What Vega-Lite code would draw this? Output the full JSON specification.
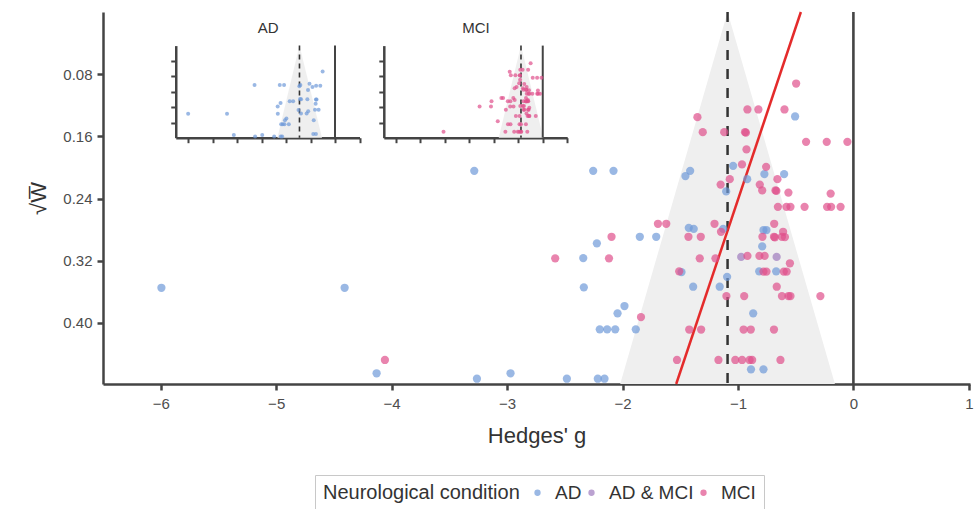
{
  "$schema": "https://vega.github.io/schema/vega-lite/v6.json",
  "width": 867,
  "height": 372,
  "autosize": {"type": "none"},
  "padding": {"left": 103, "top": 12, "right": 6, "bottom": 125},
  "background": "white",
  "config": {
    "view": {"stroke": null},
    "font": "Liberation Sans",
    "axis": {"grid": false, "domainColor": "#444444", "tickColor": "#444444", "labelColor": "#4d4d4d", "titleColor": "#333333", "labelFont": "Liberation Sans", "titleFont": "Liberation Sans", "titleFontWeight": "normal", "zindex": 1},
    "legend": {"labelFont": "Liberation Sans", "titleFont": "Liberation Sans"}
  },
  "datasets": {
    "pts": [
      {"g": -5.994, "w": 0.3547, "c": "AD"}, {"g": -4.407, "w": 0.3547, "c": "AD"}, {"g": -3.284, "w": 0.2043, "c": "AD"},
      {"g": -4.130, "w": 0.4647, "c": "AD"}, {"g": -3.261, "w": 0.4717, "c": "AD"}, {"g": -2.970, "w": 0.4647, "c": "AD"},
      {"g": -2.254, "w": 0.2043, "c": "AD"}, {"g": -2.078, "w": 0.2043, "c": "AD"}, {"g": -1.414, "w": 0.2043, "c": "AD"},
      {"g": -1.455, "w": 0.2111, "c": "AD"}, {"g": -0.505, "w": 0.1344, "c": "AD"}, {"g": -1.042, "w": 0.1979, "c": "AD"},
      {"g": -0.771, "w": 0.2085, "c": "AD"}, {"g": -0.600, "w": 0.2085, "c": "AD"}, {"g": -0.920, "w": 0.2150, "c": "AD"},
      {"g": -1.102, "w": 0.2308, "c": "AD"}, {"g": -1.426, "w": 0.2776, "c": "AD"}, {"g": -1.383, "w": 0.2789, "c": "AD"},
      {"g": -1.128, "w": 0.2789, "c": "AD"}, {"g": -0.779, "w": 0.2805, "c": "AD"}, {"g": -0.753, "w": 0.2805, "c": "AD"},
      {"g": -2.222, "w": 0.2976, "c": "AD"}, {"g": -1.850, "w": 0.2891, "c": "AD"}, {"g": -1.708, "w": 0.2891, "c": "AD"},
      {"g": -0.790, "w": 0.3015, "c": "AD"}, {"g": -2.340, "w": 0.3165, "c": "AD"}, {"g": -1.489, "w": 0.3345, "c": "AD"},
      {"g": -1.094, "w": 0.3406, "c": "AD"}, {"g": -0.816, "w": 0.3336, "c": "AD"}, {"g": -0.669, "w": 0.3336, "c": "AD"},
      {"g": -2.335, "w": 0.3542, "c": "AD"}, {"g": -1.388, "w": 0.3534, "c": "AD"}, {"g": -1.158, "w": 0.3534, "c": "AD"},
      {"g": -1.983, "w": 0.3782, "c": "AD"}, {"g": -2.043, "w": 0.3876, "c": "AD"}, {"g": -0.868, "w": 0.3876, "c": "AD"},
      {"g": -2.197, "w": 0.4082, "c": "AD"}, {"g": -2.133, "w": 0.4082, "c": "AD"}, {"g": -2.063, "w": 0.4082, "c": "AD"},
      {"g": -1.885, "w": 0.4082, "c": "AD"}, {"g": -0.887, "w": 0.4596, "c": "AD"}, {"g": -0.779, "w": 0.4596, "c": "AD"},
      {"g": -2.482, "w": 0.4717, "c": "AD"}, {"g": -2.214, "w": 0.4717, "c": "AD"}, {"g": -2.156, "w": 0.4717, "c": "AD"},
      {"g": -0.972, "w": 0.3150, "c": "AD & MCI"}, {"g": -0.665, "w": 0.3150, "c": "AD & MCI"},
      {"g": -4.058, "w": 0.4476, "c": "MCI"}, {"g": -0.496, "w": 0.0920, "c": "MCI"}, {"g": -0.918, "w": 0.1254, "c": "MCI"},
      {"g": -0.823, "w": 0.1254, "c": "MCI"}, {"g": -0.597, "w": 0.1254, "c": "MCI"}, {"g": -1.351, "w": 0.1353, "c": "MCI"},
      {"g": -1.305, "w": 0.1546, "c": "MCI"}, {"g": -1.119, "w": 0.1546, "c": "MCI"}, {"g": -0.939, "w": 0.1546, "c": "MCI"},
      {"g": -0.931, "w": 0.1552, "c": "MCI"}, {"g": -0.410, "w": 0.1670, "c": "MCI"}, {"g": -0.231, "w": 0.1670, "c": "MCI"},
      {"g": -0.052, "w": 0.1670, "c": "MCI"}, {"g": -0.926, "w": 0.1768, "c": "MCI"}, {"g": -0.965, "w": 0.1961, "c": "MCI"},
      {"g": -0.756, "w": 0.1992, "c": "MCI"}, {"g": -1.071, "w": 0.2150, "c": "MCI"}, {"g": -0.658, "w": 0.2150, "c": "MCI"},
      {"g": -1.150, "w": 0.2220, "c": "MCI"}, {"g": -0.811, "w": 0.2220, "c": "MCI"}, {"g": -0.790, "w": 0.2295, "c": "MCI"},
      {"g": -0.675, "w": 0.2295, "c": "MCI"}, {"g": -0.667, "w": 0.2301, "c": "MCI"}, {"g": -0.563, "w": 0.2323, "c": "MCI"},
      {"g": -0.197, "w": 0.2336, "c": "MCI"}, {"g": -0.654, "w": 0.2506, "c": "MCI"}, {"g": -0.580, "w": 0.2506, "c": "MCI"},
      {"g": -0.545, "w": 0.2506, "c": "MCI"}, {"g": -0.423, "w": 0.2506, "c": "MCI"}, {"g": -0.228, "w": 0.2506, "c": "MCI"},
      {"g": -0.193, "w": 0.2506, "c": "MCI"}, {"g": -0.111, "w": 0.2506, "c": "MCI"}, {"g": -1.693, "w": 0.2724, "c": "MCI"},
      {"g": -1.621, "w": 0.2724, "c": "MCI"}, {"g": -1.203, "w": 0.2724, "c": "MCI"}, {"g": -0.686, "w": 0.2724, "c": "MCI"},
      {"g": -1.147, "w": 0.2827, "c": "MCI"}, {"g": -0.609, "w": 0.2827, "c": "MCI"}, {"g": -2.095, "w": 0.2891, "c": "MCI"},
      {"g": -1.429, "w": 0.2891, "c": "MCI"}, {"g": -1.322, "w": 0.2891, "c": "MCI"}, {"g": -0.788, "w": 0.2891, "c": "MCI"},
      {"g": -0.688, "w": 0.2891, "c": "MCI"}, {"g": -0.680, "w": 0.2898, "c": "MCI"}, {"g": -0.619, "w": 0.2891, "c": "MCI"},
      {"g": -0.593, "w": 0.2895, "c": "MCI"}, {"g": -2.583, "w": 0.3169, "c": "MCI"}, {"g": -2.117, "w": 0.3169, "c": "MCI"},
      {"g": -1.331, "w": 0.3169, "c": "MCI"}, {"g": -1.195, "w": 0.3169, "c": "MCI"}, {"g": -0.918, "w": 0.3137, "c": "MCI"},
      {"g": -0.814, "w": 0.3137, "c": "MCI"}, {"g": -0.769, "w": 0.3137, "c": "MCI"}, {"g": -0.550, "w": 0.3232, "c": "MCI"},
      {"g": -1.509, "w": 0.3336, "c": "MCI"}, {"g": -0.779, "w": 0.3339, "c": "MCI"}, {"g": -0.753, "w": 0.3339, "c": "MCI"},
      {"g": -0.603, "w": 0.3339, "c": "MCI"}, {"g": -0.578, "w": 0.3339, "c": "MCI"}, {"g": -0.664, "w": 0.3534, "c": "MCI"},
      {"g": -1.100, "w": 0.3654, "c": "MCI"}, {"g": -0.946, "w": 0.3654, "c": "MCI"}, {"g": -0.619, "w": 0.3654, "c": "MCI"},
      {"g": -0.563, "w": 0.3654, "c": "MCI"}, {"g": -0.545, "w": 0.3654, "c": "MCI"}, {"g": -0.286, "w": 0.3654, "c": "MCI"},
      {"g": -1.840, "w": 0.3924, "c": "MCI"}, {"g": -1.422, "w": 0.4084, "c": "MCI"}, {"g": -1.319, "w": 0.4084, "c": "MCI"},
      {"g": -0.951, "w": 0.4084, "c": "MCI"}, {"g": -0.889, "w": 0.4084, "c": "MCI"}, {"g": -0.688, "w": 0.4084, "c": "MCI"},
      {"g": -1.528, "w": 0.4476, "c": "MCI"}, {"g": -1.169, "w": 0.4476, "c": "MCI"}, {"g": -1.023, "w": 0.4476, "c": "MCI"},
      {"g": -0.964, "w": 0.4476, "c": "MCI"}, {"g": -0.899, "w": 0.4476, "c": "MCI"}, {"g": -0.877, "w": 0.4476, "c": "MCI"},
      {"g": -0.632, "w": 0.4476, "c": "MCI"}
    ],
    "funnel": [
      {"p": "all", "w": 0, "lo": -1.09, "hi": -1.09},
      {"p": "all", "w": 0.4785, "lo": -2.02, "hi": -0.16},
      {"p": "AD", "w": 0, "lo": -1.45, "hi": -1.45},
      {"p": "AD", "w": 0.4785, "lo": -2.35, "hi": -0.53},
      {"p": "MCI", "w": 0, "lo": -0.89, "hi": -0.89},
      {"p": "MCI", "w": 0.4785, "lo": -1.8, "hi": 0.02}
    ],
    "vlines": [
      {"p": "all", "k": "zero", "g": 0, "w0": 0, "w1": 0.4785},
      {"p": "all", "k": "mean", "g": -1.09, "w0": 0, "w1": 0.4785},
      {"p": "AD", "k": "zero", "g": 0, "w0": 0, "w1": 0.4785},
      {"p": "AD", "k": "mean", "g": -1.45, "w0": 0, "w1": 0.4785},
      {"p": "MCI", "k": "zero", "g": 0, "w0": 0, "w1": 0.4785},
      {"p": "MCI", "k": "mean", "g": -0.89, "w0": 0, "w1": 0.4785}
    ],
    "egger": [
      {"w": 0, "g": -0.455},
      {"w": 0.4785, "g": -1.535}
    ]
  },
  "layer": [
    {
      "layer": [
        {
          "data": {"name": "funnel"},
          "transform": [{"filter": "datum.p === 'all'"}],
          "mark": {"type": "area", "orient": "horizontal", "color": "#efefef"},
          "encoding": {
            "y": {"field": "w", "type": "quantitative",
              "scale": {"domain": [0, 0.4785], "nice": false, "zero": false, "range": [0, 372]},
              "axis": {"values": [0.08, 0.16, 0.24, 0.32, 0.4], "format": ".2f", "title": "√W̅", "titleFontSize": 22, "labelFontSize": 15, "tickSize": 6, "tickWidth": 2.5, "domainWidth": 2.5, "labelPadding": 5, "titlePadding": 12}},
            "x": {"field": "lo", "type": "quantitative",
              "scale": {"domain": [-6.5, 1.01], "nice": false, "zero": false},
              "axis": {"values": [-6, -5, -4, -3, -2, -1, 0, 1], "format": "d", "title": "Hedges' g", "titleFontSize": 22, "labelFontSize": 15, "tickSize": 6, "tickWidth": 2.5, "domainWidth": 2.5, "labelPadding": 6, "titlePadding": 14}},
            "x2": {"field": "hi"}
          }
        },
        {
          "data": {"name": "vlines"},
          "transform": [{"filter": "datum.p === 'all' && datum.k === 'zero'"}],
          "mark": {"type": "rule", "color": "#444444", "strokeWidth": 2.6},
          "encoding": {"x": {"field": "g", "type": "quantitative"}, "y": {"field": "w0", "type": "quantitative"}, "y2": {"field": "w1"}}
        },
        {
          "data": {"name": "vlines"},
          "transform": [{"filter": "datum.p === 'all' && datum.k === 'mean'"}],
          "mark": {"type": "rule", "color": "#333333", "strokeWidth": 2.5, "strokeDash": [10, 9]},
          "encoding": {"x": {"field": "g", "type": "quantitative"}, "y": {"field": "w0", "type": "quantitative"}, "y2": {"field": "w1"}}
        },
        {
          "data": {"name": "egger"},
          "mark": {"type": "line", "color": "#e42b2b", "strokeWidth": 2.5},
          "encoding": {"x": {"field": "g", "type": "quantitative"}, "y": {"field": "w", "type": "quantitative"}, "order": {"field": "w"}}
        },
        {
          "data": {"name": "pts"},
          "mark": {"type": "circle", "size": 68, "opacity": 0.7},
          "encoding": {
            "x": {"field": "g", "type": "quantitative"},
            "y": {"field": "w", "type": "quantitative"},
            "color": {"field": "c", "type": "nominal",
              "scale": {"domain": ["AD", "AD & MCI", "MCI"], "range": ["#6f9ad9", "#9e7bbd", "#e0508c"]},
              "legend": {"orient": "none", "legendX": 212, "legendY": 463, "direction": "horizontal", "titleOrient": "left", "title": "Neurological condition", "titleLimit": 400, "labelLimit": 200, "titleFontSize": 20, "labelFontSize": 19, "titleFontWeight": "normal", "titleColor": "#333333", "labelColor": "#333333", "strokeColor": "#c8c8c8", "fillColor": "white", "padding": 8, "symbolSize": 40, "symbolType": "circle", "labelOffset": 8, "columnPadding": -2, "titlePadding": 8, "titleBaseline": "middle", "titleAnchor": "middle"}}
          }
        }
      ]
    },
    {
      "layer": [
        {
          "data": {"name": "funnel"},
          "transform": [{"filter": "datum.p === 'AD'"}],
          "mark": {"type": "area", "orient": "horizontal", "color": "#efefef"},
          "encoding": {
            "y": {"field": "w", "type": "quantitative",
              "scale": {"domain": [0, 0.4785], "nice": false, "zero": false, "range": [33.6, 125.7]},
              "axis": {"orient": "left", "offset": -72.75, "values": [0.08, 0.16, 0.24, 0.32, 0.4], "labels": false, "title": null, "tickSize": 5, "tickWidth": 2, "domainWidth": 2.5}},
            "x": {"field": "lo", "type": "quantitative",
              "scale": {"domain": [-6.5, 1], "nice": false, "zero": false, "range": [72.75, 256.5]},
              "axis": {"orient": "bottom", "offset": -246.3, "values": [-6, -5, -4, -3, -2, -1, 0, 1], "labels": false, "title": "AD", "titleFontSize": 15, "titleColor": "#333333", "titleY": -105.4, "titleBaseline": "alphabetic", "tickSize": 5, "tickWidth": 2, "domainWidth": 2.5}},
            "x2": {"field": "hi"}
          }
        },
        {
          "data": {"name": "vlines"},
          "transform": [{"filter": "datum.p === 'AD' && datum.k === 'zero'"}],
          "mark": {"type": "rule", "color": "#444444", "strokeWidth": 2},
          "encoding": {"x": {"field": "g", "type": "quantitative"}, "y": {"field": "w0", "type": "quantitative"}, "y2": {"field": "w1"}}
        },
        {
          "data": {"name": "vlines"},
          "transform": [{"filter": "datum.p === 'AD' && datum.k === 'mean'"}],
          "mark": {"type": "rule", "color": "#333333", "strokeWidth": 1.6, "strokeDash": [5, 4]},
          "encoding": {"x": {"field": "g", "type": "quantitative"}, "y": {"field": "w0", "type": "quantitative"}, "y2": {"field": "w1"}}
        },
        {
          "data": {"name": "pts"},
          "transform": [{"filter": "datum.c === 'AD'"}],
          "mark": {"type": "circle", "size": 16, "opacity": 0.7},
          "encoding": {
            "x": {"field": "g", "type": "quantitative"},
            "y": {"field": "w", "type": "quantitative"},
            "color": {"field": "c", "type": "nominal"}
          }
        }
      ]
    },
    {
      "layer": [
        {
          "data": {"name": "funnel"},
          "transform": [{"filter": "datum.p === 'MCI'"}],
          "mark": {"type": "area", "orient": "horizontal", "color": "#efefef"},
          "encoding": {
            "y": {"field": "w", "type": "quantitative",
              "scale": {"domain": [0, 0.4785], "nice": false, "zero": false, "range": [33.6, 125.7]},
              "axis": {"orient": "left", "offset": -280.8, "values": [0.08, 0.16, 0.24, 0.32, 0.4], "labels": false, "title": null, "tickSize": 5, "tickWidth": 2, "domainWidth": 2.5}},
            "x": {"field": "lo", "type": "quantitative",
              "scale": {"domain": [-6.5, 1], "nice": false, "zero": false, "range": [280.8, 464.2]},
              "axis": {"orient": "bottom", "offset": -246.3, "values": [-6, -5, -4, -3, -2, -1, 0, 1], "labels": false, "title": "MCI", "titleFontSize": 15, "titleColor": "#333333", "titleY": -105.4, "titleBaseline": "alphabetic", "tickSize": 5, "tickWidth": 2, "domainWidth": 2.5}},
            "x2": {"field": "hi"}
          }
        },
        {
          "data": {"name": "vlines"},
          "transform": [{"filter": "datum.p === 'MCI' && datum.k === 'zero'"}],
          "mark": {"type": "rule", "color": "#444444", "strokeWidth": 2},
          "encoding": {"x": {"field": "g", "type": "quantitative"}, "y": {"field": "w0", "type": "quantitative"}, "y2": {"field": "w1"}}
        },
        {
          "data": {"name": "vlines"},
          "transform": [{"filter": "datum.p === 'MCI' && datum.k === 'mean'"}],
          "mark": {"type": "rule", "color": "#333333", "strokeWidth": 1.6, "strokeDash": [5, 4]},
          "encoding": {"x": {"field": "g", "type": "quantitative"}, "y": {"field": "w0", "type": "quantitative"}, "y2": {"field": "w1"}}
        },
        {
          "data": {"name": "pts"},
          "transform": [{"filter": "datum.c === 'MCI'"}],
          "mark": {"type": "circle", "size": 16, "opacity": 0.7},
          "encoding": {
            "x": {"field": "g", "type": "quantitative"},
            "y": {"field": "w", "type": "quantitative"},
            "color": {"field": "c", "type": "nominal"}
          }
        }
      ]
    }
  ],
  "resolve": {"scale": {"x": "independent", "y": "independent"}, "axis": {"x": "independent", "y": "independent"}}
}
